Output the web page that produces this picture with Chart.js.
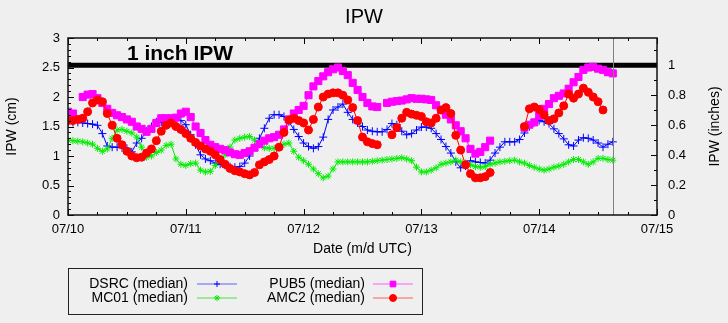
<!DOCTYPE html>
<html>
<head>
<meta charset="utf-8">
<title>IPW</title>
<script src="https://cdn.jsdelivr.net/npm/chart.js@4.4.1/dist/chart.umd.min.js"></script>
<style>
  html, body { margin: 0; padding: 0; background: #efefef; }
  #wrap { width: 728px; height: 323px; }
</style>
</head>
<body>
<div id="wrap"><canvas id="ipwChart" width="728" height="323"></canvas></div>
<script>
// hours since 07/10 00:00 UTC
var hours = [0, 1, 2, 3, 4, 5, 6, 7, 8, 9, 10, 11,
  12, 13, 14, 15, 16, 17, 18, 19, 20, 21, 22, 23,
  24, 25, 26, 27, 28, 29, 30, 31, 32, 33, 34, 35,
  36, 37, 38, 39, 40, 41, 42, 43, 44, 45, 46, 47,
  48, 49, 50, 51, 52, 53, 54, 55, 56, 57, 58, 59,
  60, 61, 62, 63, 64, 65, 66, 67, 68, 69, 70, 71,
  72, 73, 74, 75, 76, 77, 78, 79, 80, 81, 82, 83,
  84, 85, 86, 87, 88, 89, 90, 91, 92, 93, 94, 95,
  96, 97, 98, 99, 100, 101, 102, 103, 104, 105, 106, 107,
  108, 109, 110, 111];

// IPW in cm
var dsrc = [1.58, 1.57, 1.57, 1.56, 1.55, 1.54, 1.52, 1.38, 1.17, 1.15, 1.15, 1.14,
  1.13, 1.07, 1.22, 1.3, 1.42, 1.5, 1.58, 1.57, 1.56, 1.58, 1.62, 1.6,
  1.53, 1.36, 1.19, 1.02, 0.95, 0.92, 0.88, 0.86, 0.84, 0.82, 0.81, 0.82,
  0.88, 1.0, 1.15, 1.3, 1.47, 1.64, 1.7, 1.7, 1.67, 1.58, 1.45, 1.33,
  1.22, 1.16, 1.13, 1.16, 1.32, 1.62, 1.78, 1.83, 1.88, 1.74, 1.62, 1.56,
  1.5, 1.44, 1.42, 1.41, 1.41, 1.45, 1.55, 1.53, 1.42, 1.36, 1.38, 1.44,
  1.49, 1.49, 1.47, 1.38, 1.28, 1.16, 1.05, 0.9, 0.8, 0.83, 0.92, 0.9,
  0.89, 0.88, 0.93, 1.05, 1.15, 1.24, 1.24, 1.24, 1.28, 1.39, 1.5, 1.57,
  1.6, 1.58, 1.55, 1.46, 1.38, 1.29, 1.19, 1.17, 1.27, 1.31, 1.3, 1.27,
  1.22, 1.15, 1.2, 1.24];

var mc01 = [1.27, 1.26, 1.25, 1.24, 1.22, 1.2, 1.13, 1.08, 1.12, 1.3, 1.44, 1.45,
  1.42, 1.39, 1.32, 1.15, 0.98, 1.0, 1.06, 1.1, 1.18, 1.2, 0.95, 0.86,
  0.84, 0.87, 0.88, 0.76, 0.73, 0.74, 0.84, 0.93, 1.02, 1.15, 1.27, 1.3,
  1.32, 1.33, 1.27, 1.2, 1.14, 1.13, 1.13, 1.15, 1.2, 1.22, 1.08, 0.98,
  0.92, 0.86, 0.78, 0.7, 0.63, 0.66, 0.78, 0.9, 0.9, 0.9, 0.9, 0.9,
  0.9, 0.9, 0.91, 0.92, 0.93, 0.94, 0.95, 0.96, 0.97, 0.95, 0.92, 0.81,
  0.73, 0.73, 0.76, 0.8, 0.86, 0.88, 0.9, 0.93, 0.9, 0.88, 0.85, 0.82,
  0.81, 0.82, 0.86, 0.88, 0.9, 0.91, 0.92, 0.93, 0.9, 0.88, 0.84, 0.81,
  0.78, 0.76, 0.78, 0.81, 0.83, 0.86, 0.9, 0.94, 0.94, 0.9, 0.86, 0.9,
  0.96, 0.96, 0.94, 0.93];

var pub5 = [1.75, 1.72, null, 2.0, 2.04, 2.05, 1.98, 1.9, 1.8, 1.73, 1.69, 1.66,
  1.62, 1.58, 1.5, 1.46, 1.41, 1.46, 1.56, 1.64, 1.64, 1.64, 1.65, 1.72,
  1.75, 1.66, 1.5, 1.39, 1.27, 1.19, 1.15, 1.12, 1.1, 1.06, 1.03, 1.02,
  1.05, 1.08, 1.14, 1.2, 1.26, 1.3, 1.32, 1.36, 1.45, 1.62, 1.72, 1.78,
  1.85, 2.03, 2.18, 2.27, 2.35, 2.42, 2.47, 2.5, 2.44, 2.37, 2.24, 2.12,
  2.0, 1.9, 1.84, 1.83, null, 1.9, 1.92, 1.93, 1.94, 1.96, 1.98, 1.97,
  1.97, 1.96, 1.95, 1.86, 1.78, 1.7, 1.62, 1.52, 1.42, 1.3, 1.12, 1.04,
  1.07, 1.15, 1.26, null, null, null, null, null, null, 1.48, 1.53, 1.57,
  1.68, 1.8, 1.88, 1.98, 2.02, 2.06, 2.14, 2.25, 2.34, 2.46, 2.5, 2.51,
  2.48, 2.46, 2.42, 2.4];

var amc2 = [1.6, 1.6, 1.62, 1.64, 1.75, 1.9, 1.95, 1.92, 1.72, 1.52, 1.3, 1.19,
  1.08, 1.0, 0.97, 0.98, 1.05, 1.12, 1.26, 1.42, 1.52, 1.56, 1.5, 1.45,
  1.38, 1.3, 1.23, 1.17, 1.12, 1.08, 1.02, 0.94, 0.86, 0.79, 0.75, 0.73,
  0.7, 0.68, 0.72, 0.85, 0.9, 0.94, 1.0, 1.15, 1.4, 1.61, 1.64, 1.6,
  1.56, 1.44, 1.62, 1.83, 2.0, 2.05, 2.07, 2.07, 2.03, 1.95, 1.82, 1.6,
  1.32, 1.24, 1.21, 1.19, null, null, 1.36, 1.48, 1.64, 1.74, 1.71, 1.69,
  1.67, 1.58, 1.56, 1.64, 1.78, 1.82, 1.72, 1.35, 1.1, 0.85, 0.7, 0.63,
  0.63, 0.65, 0.72, null, null, null, null, null, null, 1.5, 1.8, 1.83,
  1.79, 1.7, 1.6, 1.63, 1.73, 1.85, 2.05, 1.98, 2.05, 2.15, 2.08, 2.0,
  1.92, 1.78, null, null];

var dayLabels = ['07/10', '07/11', '07/12', '07/13', '07/14', '07/15'];
var seriesNames = ['DSRC (median)', 'MC01 (median)', 'PUB5 (median)', 'AMC2 (median)'];

var oneInchCm = 2.54;
var lastHour = 111;   // grey marker line at end of data
var FONT = "'Liberation Sans', Arial, Helvetica, sans-serif";

function pts(vals) {
  return hours.map(function (h, i) { return { x: h, y: vals[i] }; });
}

var styles = [
  { color: '#0000ff', light: 'rgba(0,0,255,0.3)', pointStyle: 'cross', radius: 4, legendRadius: 3 },
  { color: '#00ee00', light: 'rgba(0,220,0,0.35)', pointStyle: 'star', radius: 3.5, legendRadius: 3 },
  { color: '#ff00ff', light: 'rgba(255,0,255,0.3)', pointStyle: 'rect', radius: 5, legendRadius: 4 },
  { color: '#ff0000', light: 'rgba(255,0,0,0.3)', pointStyle: 'circle', radius: 4, legendRadius: 3.5 }
];

function makeSet(i, vals, order) {
  var st = styles[i];
  return {
    label: seriesNames[i],
    data: pts(vals),
    borderColor: st.color,
    borderWidth: 1,
    backgroundColor: st.color,
    pointStyle: st.pointStyle,
    pointRadius: st.radius,
    pointBorderWidth: 1,
    pointBackgroundColor: st.color,
    pointBorderColor: st.color,
    spanGaps: false,
    tension: 0,
    order: order
  };
}

var gnuFrame = {
  id: 'gnuFrame',
  beforeDraw: function (chart) {
    var ctx = chart.ctx;
    ctx.save();
    ctx.fillStyle = '#efefef';
    ctx.fillRect(0, 0, chart.width, chart.height);
    ctx.restore();
  },
  afterDatasetsDraw: function (chart) {
    var ctx = chart.ctx, a = chart.chartArea, s = chart.scales;
    ctx.save();

    // end-of-data line
    var xn = Math.round(s.x.getPixelForValue(lastHour)) + 0.5;
    ctx.strokeStyle = '#808080';
    ctx.lineWidth = 1;
    ctx.beginPath(); ctx.moveTo(xn, a.top); ctx.lineTo(xn, a.bottom); ctx.stroke();

    // inward ticks like gnuplot
    ctx.strokeStyle = '#000';
    ctx.lineWidth = 1;
    function tick(x1, y1, x2, y2) {
      ctx.beginPath(); ctx.moveTo(x1, y1); ctx.lineTo(x2, y2); ctx.stroke();
    }
    var h, i, p, len;
    for (h = 0; h <= 120; h += 6) {
      p = Math.round(s.x.getPixelForValue(h)) + 0.5;
      len = h % 24 === 0 ? 6 : 3;
      tick(p, a.bottom, p, a.bottom - len);
      tick(p, a.top, p, a.top + len);
    }
    for (i = 0; i <= 30; i++) {
      p = Math.round(s.y.getPixelForValue(i / 10)) + 0.5;
      len = i % 5 === 0 ? 6 : 3;
      tick(a.left, p, a.left + len, p);
    }
    for (i = 0; i <= 11; i++) {
      p = Math.round(s.y2.getPixelForValue(i / 10)) + 0.5;
      len = i % 2 === 0 ? 6 : 3;
      tick(a.right, p, a.right - len, p);
    }

    // border
    ctx.lineWidth = 1.5;
    ctx.strokeStyle = '#111';
    ctx.strokeRect(a.left, a.top, a.right - a.left, a.bottom - a.top);

    // label for the 1 inch line
    ctx.fillStyle = '#000';
    ctx.font = 'bold 21px ' + FONT;
    ctx.textAlign = 'left';
    ctx.textBaseline = 'alphabetic';
    ctx.fillText('1 inch IPW', s.x.getPixelForValue(12), s.y.getPixelForValue(2.63));

    // right axis title, reading bottom to top
    ctx.font = '14px ' + FONT;
    ctx.textAlign = 'center';
    ctx.textBaseline = 'middle';
    ctx.translate(715, (a.top + a.bottom) / 2);
    ctx.rotate(-Math.PI / 2);
    ctx.fillText('IPW (inches)', 0, 0);
    ctx.restore();
  }
};

var gnuLegend = {
  id: 'gnuLegend',
  afterDraw: function (chart) {
    var ctx = chart.ctx;
    ctx.save();
    ctx.strokeStyle = '#222';
    ctx.lineWidth = 1;
    ctx.strokeRect(68.5, 268.5, 354, 46);
    var cols = [{ textRight: 188, x0: 197, x1: 237 }, { textRight: 365, x0: 373, x1: 413 }];
    var rows = [284, 298];
    ctx.font = '14px ' + FONT;
    ctx.textAlign = 'right';
    ctx.textBaseline = 'middle';
    for (var k = 0; k < 4; k++) {
      var c = cols[Math.floor(k / 2)], y = rows[k % 2], st = styles[k];
      ctx.fillStyle = '#000';
      ctx.fillText(seriesNames[k], c.textRight, y);
      ctx.strokeStyle = st.light;
      ctx.lineWidth = 2;
      ctx.beginPath(); ctx.moveTo(c.x0, y); ctx.lineTo(c.x1, y); ctx.stroke();
      ctx.fillStyle = st.color;
      ctx.strokeStyle = st.color;
      ctx.lineWidth = 1;
      Chart.helpers.drawPoint(ctx, {
        pointStyle: st.pointStyle, rotation: 0,
        radius: st.legendRadius, borderWidth: 1
      }, (c.x0 + c.x1) / 2, y);
    }
    ctx.restore();
  }
};

new Chart(document.getElementById('ipwChart'), {
  type: 'line',
  data: {
    datasets: [
      makeSet(0, dsrc, 3),
      makeSet(1, mc01, 2),
      makeSet(2, pub5, 1),
      makeSet(3, amc2, 0),
      {
        label: '1 inch IPW',
        data: [{ x: 0, y: oneInchCm }, { x: 120, y: oneInchCm }],
        borderColor: '#000',
        borderWidth: 5,
        pointRadius: 0,
        order: 4
      }
    ]
  },
  options: {
    responsive: false,
    animation: false,
    events: [],
    layout: { padding: 0 },
    plugins: {
      legend: { display: false },
      tooltip: { enabled: false },
      title: {
        display: true,
        text: 'IPW',
        color: '#000',
        font: { family: FONT, size: 20, weight: 'normal' },
        padding: { top: 5, bottom: 9 }
      }
    },
    scales: {
      x: {
        type: 'linear',
        min: 0,
        max: 120,
        grid: { display: false, drawTicks: false },
        border: { display: false },
        ticks: {
          stepSize: 24, autoSkip: false, maxRotation: 0, padding: 7,
          color: '#000', font: { family: FONT, size: 13 },
          callback: function (v) { return dayLabels[Math.round(v / 24)]; }
        },
        title: {
          display: true, text: 'Date (m/d UTC)', color: '#000',
          font: { family: FONT, size: 14 },
          padding: { top: 0, bottom: 65 }
        },
        afterFit: function (sc) { sc.height = 108; }
      },
      y: {
        position: 'left',
        min: 0,
        max: 3,
        grid: { display: false, drawTicks: false },
        border: { display: false },
        ticks: {
          stepSize: 0.5, padding: 8, color: '#000',
          font: { family: FONT, size: 13 },
          callback: function (v) { return String(v); }
        },
        title: {
          display: true, text: 'IPW (cm)', color: '#000',
          font: { family: FONT, size: 14 },
          padding: { top: 4, bottom: 0 }
        },
        afterFit: function (sc) { sc.width = 68; }
      },
      y2: {
        position: 'right',
        min: 0,
        max: 3 / 2.54,
        grid: { display: false, drawTicks: false },
        border: { display: false },
        ticks: {
          stepSize: 0.2, includeBounds: false, padding: 11, color: '#000',
          font: { family: FONT, size: 13 },
          callback: function (v) { return String(Math.round(v * 10) / 10); }
        },
        afterFit: function (sc) { sc.width = 71; }
      }
    }
  },
  plugins: [gnuFrame, gnuLegend]
});
</script>
</body>
</html>
